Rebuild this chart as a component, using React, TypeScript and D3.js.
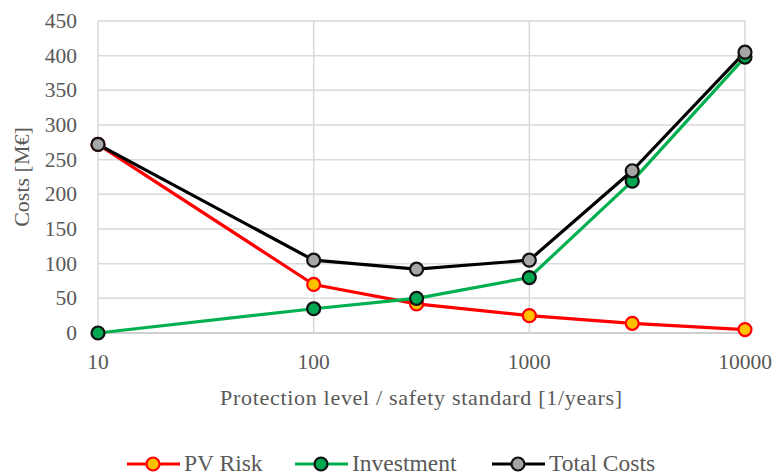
import React from "react";
import * as d3 from "d3";

const protectionLevels = [10, 100, 300, 1000, 3000, 10000];
const pvRisk = [272, 70, 42, 25, 14, 5];
const investment = [0, 35, 50, 80, 219, 398];
const totalCosts = [272, 105, 92, 105, 234, 405];
const yTicks = [0, 50, 100, 150, 200, 250, 300, 350, 400, 450];
const xTicks = [10, 100, 1000, 10000];

const seriesList = [
  { name: "PV Risk", values: pvRisk, line: "#ff0000", fill: "#ffc000", stroke: "#ff0000" },
  { name: "Investment", values: investment, line: "#00b050", fill: "#00a650", stroke: "#111111" },
  { name: "Total Costs", values: totalCosts, line: "#000000", fill: "#a6a6a6", stroke: "#111111" },
];

const W = 776;
const H = 476;
const FONT = "'Liberation Serif', 'Times New Roman', serif";
const TEXT = "#595959";

export default function App() {
  const x = d3.scaleLog().domain([10, 10000]).range([98, 745]);
  const y = d3.scaleLinear().domain([0, 450]).range([333, 21]);
  const line = d3
    .line<number>()
    .x((_, i) => x(protectionLevels[i]))
    .y((v) => y(v));

  const legendX = [127, 295, 492];

  return (
    <svg
      width={W}
      height={H}
      style={{ position: "absolute", left: 0, top: 0, background: "#fff" }}
      fontFamily={FONT}
    >
      <rect x={0} y={0} width={W} height={H} fill="#fff" />
      {yTicks.map((t) => (
        <line
          key={"gy" + t}
          x1={x(10)}
          x2={x(10000)}
          y1={y(t)}
          y2={y(t)}
          stroke={t === 0 ? "#bfbfbf" : "#d9d9d9"}
          strokeWidth={1.5}
        />
      ))}
      {xTicks.map((t) => (
        <line
          key={"gx" + t}
          x1={x(t)}
          x2={x(t)}
          y1={y(450)}
          y2={y(0)}
          stroke="#d9d9d9"
          strokeWidth={1.5}
        />
      ))}
      {yTicks.map((t) => (
        <text
          key={"ty" + t}
          x={77}
          y={y(t) + 7}
          textAnchor="end"
          fontSize={21.5}
          fill={TEXT}
        >
          {t}
        </text>
      ))}
      {xTicks.map((t) => (
        <text
          key={"tx" + t}
          x={x(t)}
          y={369}
          textAnchor="middle"
          fontSize={21.5}
          fill={TEXT}
        >
          {t}
        </text>
      ))}
      <text
        x={421}
        y={405}
        textAnchor="middle"
        fontSize={22}
        fill={TEXT}
        textLength={402}
      >
        Protection level  / safety standard [1/years]
      </text>
      <text
        transform={`translate(29,177) rotate(-90)`}
        textAnchor="middle"
        fontSize={22}
        fill={TEXT}
      >
        Costs [M€]
      </text>
      {seriesList.map((s) => (
        <path
          key={"l" + s.name}
          d={line(s.values) || ""}
          fill="none"
          stroke={s.line}
          strokeWidth={3.2}
          strokeLinejoin="round"
        />
      ))}
      {seriesList.map((s) =>
        s.values.map((v, i) => (
          <circle
            key={s.name + i}
            cx={x(protectionLevels[i])}
            cy={y(v)}
            r={6.5}
            fill={s.fill}
            stroke={s.stroke}
            strokeWidth={2.2}
          />
        ))
      )}
      {seriesList.map((s, k) => (
        <g key={"lg" + s.name}>
          <line
            x1={legendX[k]}
            x2={legendX[k] + 53}
            y1={464}
            y2={464}
            stroke={s.line}
            strokeWidth={3.2}
          />
          <circle
            cx={legendX[k] + 26}
            cy={464}
            r={6.5}
            fill={s.fill}
            stroke={s.stroke}
            strokeWidth={2.2}
          />
          <text x={legendX[k] + 57} y={471} fontSize={23.5} fill={TEXT}>
            {s.name}
          </text>
        </g>
      ))}
    </svg>
  );
}
